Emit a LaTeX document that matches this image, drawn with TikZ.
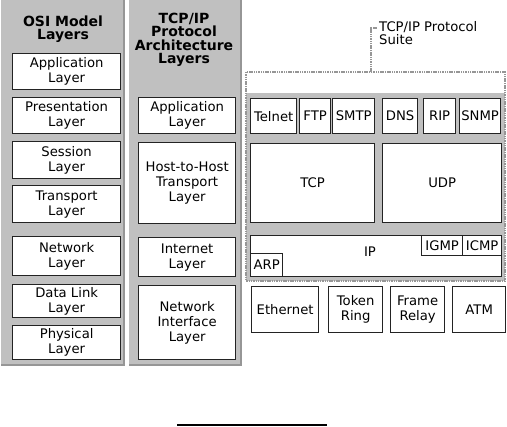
\documentclass[tikz,border=0pt]{standalone}
\usepackage{fontspec}
\usepackage{xcolor}
\usepackage{tikz}
\newfontfamily\diagfont{DejaVu Sans}
\definecolor{panelgray}{RGB}{192,192,192}
\definecolor{paneledge}{RGB}{150,150,150}
\definecolor{boxedge}{RGB}{35,35,35}
\newcommand{\layerfont}{\diagfont\fontsize{13.2}{15}\selectfont}
\newcommand{\titlefont}{\diagfont\bfseries\fontsize{14}{13.5}\selectfont}
\tikzset{
  panel/.style={fill=panelgray,draw=paneledge,line width=1.5pt},
  layerbox/.style={draw=boxedge,fill=white,line width=1.3pt,align=center,
    inner sep=0pt,anchor=north west,font=\layerfont},
  paneltitle/.style={font=\titlefont,align=center,inner sep=0pt},
  suiteline/.style={paneledge,line width=1.8pt,dash pattern=on 1.5pt off 0.8pt},
}

\begin{document}
\begin{tikzpicture}[x=1pt,y=-1pt]
  \useasboundingbox (0,0) rectangle (507,427);
  % gray panels behind the two layer stacks
  \fill[panelgray] (1,-2) rectangle (124,365);
  \draw[paneledge,line width=1.5pt] (124,-2) -- (124,365) -- (1,365);
  \fill[panelgray] (129,-2) rectangle (241,365);
  \draw[paneledge,line width=1.5pt] (241,-2) -- (241,365) -- (129,365);
  \node[paneltitle] (osititle) at (63,29) {OSI Model\\Layers};
  \node[paneltitle] (tcptitle) at (184,40) {TCP/IP\\Protocol\\Architecture\\Layers};

  % OSI model layers
  \node[layerbox,minimum width=108pt,minimum height=36pt] (osiapp)   at (12,53)  {Application\\Layer};
  \node[layerbox,minimum width=108pt,minimum height=36pt] (osipres)  at (12,97)  {Presentation\\Layer};
  \node[layerbox,minimum width=108pt,minimum height=37pt] (osisess)  at (12,141) {Session\\Layer};
  \node[layerbox,minimum width=108pt,minimum height=37pt] (ositrans) at (12,185) {Transport\\Layer};
  \node[layerbox,minimum width=108pt,minimum height=39pt] (osinet)   at (12,236) {Network\\Layer};
  \node[layerbox,minimum width=108pt,minimum height=33pt] (osidl)    at (12,284) {Data Link\\Layer};
  \node[layerbox,minimum width=108pt,minimum height=34pt] (osiphys)  at (12,325) {Physical\\Layer};

  % TCP/IP architecture layers
  \node[layerbox,minimum width=97pt,minimum height=36pt] (tcpapp)   at (138,97)  {Application\\Layer};
  \node[layerbox,minimum width=97pt,minimum height=81pt] (tcphost)  at (138,142) {Host-to-Host\\Transport\\Layer};
  \node[layerbox,minimum width=97pt,minimum height=39pt] (tcpinet)  at (138,237) {Internet\\Layer};
  \node[layerbox,minimum width=97pt,minimum height=74pt] (tcpnetif) at (138,285) {Network\\Interface\\Layer};

  % protocol suite frame
  \fill[white] (246,72) rectangle (505,93);
  \fill[panelgray] (246,93) rectangle (505,281);
  \draw[suiteline] (246,72) rectangle (505,281);
  \coordinate (suitetop) at (371,72);
  \coordinate (suitecorner) at (371,28);
  \coordinate (suitetick) at (377,28);
  \draw[suiteline,line width=1.3pt] (suitetop) -- (suitecorner) -- (suitetick);
  \node[font=\diagfont\fontsize{13.2}{13}\selectfont,align=left,anchor=north west,inner sep=0pt]
    (suitelabel) at (379,21) {TCP/IP Protocol\\Suite};

  % application protocols
  \node[layerbox,minimum width=46pt,minimum height=35pt] (telnet) at (250,98) {Telnet};
  \node[layerbox,minimum width=31pt,minimum height=35pt] (ftp)    at (299,98) {FTP};
  \node[layerbox,minimum width=42pt,minimum height=35pt] (smtp)   at (332,98) {SMTP};
  \node[layerbox,minimum width=35pt,minimum height=35pt] (dns)    at (382,98) {DNS};
  \node[layerbox,minimum width=32pt,minimum height=35pt] (rip)    at (423,98) {RIP};
  \node[layerbox,minimum width=41pt,minimum height=35pt] (snmp)   at (459,98) {SNMP};

  % transport protocols
  \node[layerbox,minimum width=124pt,minimum height=79pt] (tcp) at (250,143) {TCP};
  \node[layerbox,minimum width=119pt,minimum height=79pt] (udp) at (382,143) {UDP};

  % internet protocols
  \node[layerbox,minimum width=251pt,minimum height=41pt] (ip) at (250,235) {};
  \node[font=\layerfont,inner sep=0pt] (iplabel) at (370,252) {IP};
  \node[layerbox,minimum width=41pt,minimum height=20pt] (igmp) at (421,235) {IGMP};
  \node[layerbox,minimum width=39pt,minimum height=20pt] (icmp) at (462,235) {ICMP};
  \node[layerbox,minimum width=32pt,minimum height=23pt] (arp)  at (250,253) {ARP};

  % network interface technologies
  \node[layerbox,minimum width=67pt,minimum height=46pt] (ethernet)   at (251,286) {Ethernet};
  \node[layerbox,minimum width=54pt,minimum height=46pt] (tokenring)  at (328,286) {Token\\Ring};
  \node[layerbox,minimum width=54pt,minimum height=46pt] (framerelay) at (390,286) {Frame\\Relay};
  \node[layerbox,minimum width=53pt,minimum height=46pt] (atm)        at (452,286) {ATM};

  % rule under the figure
  \coordinate (ruleleft) at (177,425);
  \coordinate (ruleright) at (327,425);
  \draw[black,line width=2pt] (ruleleft) -- (ruleright);
\end{tikzpicture}
\end{document}
